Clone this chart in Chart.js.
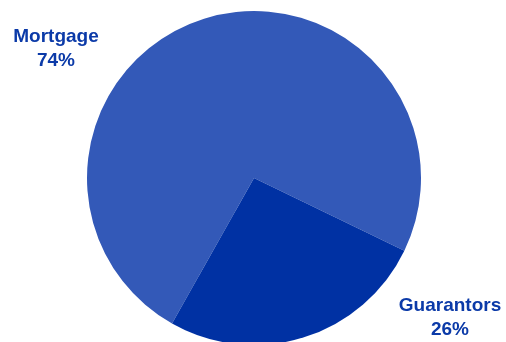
<!DOCTYPE html>
<html>
<head>
<meta charset="utf-8">
<script src="https://cdn.jsdelivr.net/npm/chart.js@4.4.0/dist/chart.umd.min.js"></script>
<style>
html,body{margin:0;padding:0;background:#fff;}
#wrap{width:506px;height:342px;position:relative;}
</style>
</head>
<body>
<div id="wrap"><canvas id="c" width="506" height="342"></canvas></div>
<script>
const categories = ["Mortgage", "Guarantors"];
const values = [74, 26];
const sliceColors = ["#3359B8", "#0031A3"];
const labelText = ["Mortgage\n74%", "Guarantors\n26%"];

const labelPlugin = {
  id: 'sliceLabels',
  afterDraw(chart) {
    const ctx = chart.ctx;
    ctx.save();
    ctx.font = 'bold 19px "Liberation Sans", Arial, sans-serif';
    ctx.fillStyle = '#0B3AA8';
    ctx.textAlign = 'center';
    ctx.textBaseline = 'alphabetic';
    const pos = [[56, 42, 23.5], [450, 311, 24]];
    labelText.forEach((t, i) => {
      const lines = t.split('\n');
      lines.forEach((ln, j) => ctx.fillText(ln, pos[i][0], pos[i][1] + j * pos[i][2]));
    });
    ctx.restore();
  }
};

new Chart(document.getElementById('c'), {
  type: 'pie',
  data: {
    labels: categories,
    datasets: [{
      data: values,
      backgroundColor: sliceColors,
      borderWidth: 0,
      radius: 167
    }]
  },
  options: {
    responsive: false,
    animation: false,
    rotation: 209.4,
    layout: { padding: { left: 2, right: 0, top: 14, bottom: 0 } },
    plugins: { legend: { display: false }, tooltip: { enabled: false } }
  },
  plugins: [labelPlugin]
});
</script>
</body>
</html>
